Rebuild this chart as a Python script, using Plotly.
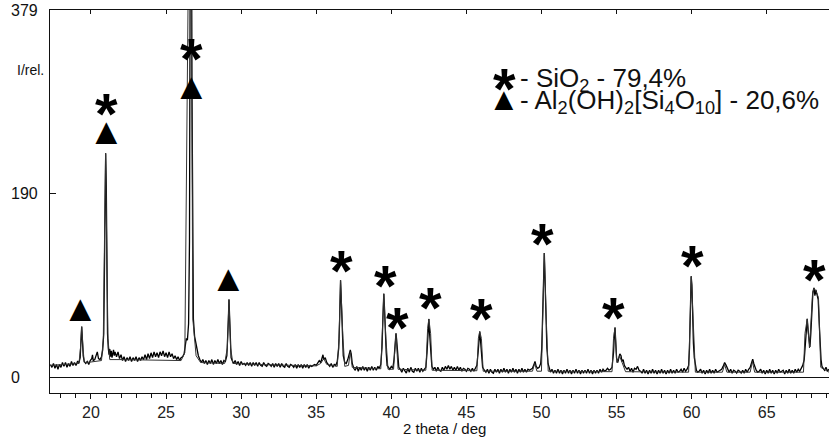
import plotly.graph_objects as go

# Measured diffraction scan: (2-theta in degrees, relative intensity)
scan = [
    (17.30, 13), (17.40, 10), (17.50, 14), (17.60, 9), (17.70, 13), (17.80, 8), (17.90, 13),
    (18.00, 10), (18.10, 15), (18.20, 11), (18.30, 15), (18.40, 10), (18.50, 14), (18.60, 11),
    (18.70, 16), (18.80, 12), (18.90, 15), (19.00, 12), (19.10, 16), (19.20, 15),
    (19.28, 20), (19.33, 35), (19.38, 52), (19.43, 38), (19.48, 22), (19.55, 16),
    (19.65, 14), (19.75, 16), (19.85, 13), (19.95, 17), (20.05, 19), (20.10, 23), (20.15, 17),
    (20.25, 18), (20.35, 22), (20.42, 26), (20.50, 19), (20.60, 18), (20.70, 21), (20.78, 28),
    (20.85, 45), (20.90, 110), (20.95, 190), (20.98, 231), (21.02, 195), (21.06, 100),
    (21.10, 45), (21.15, 30),
    (21.20, 23), (21.25, 29), (21.30, 21), (21.35, 27), (21.40, 20), (21.50, 28), (21.55, 22),
    (21.60, 26), (21.70, 21), (21.80, 26), (21.90, 19), (22.00, 23),
    (22.10, 17), (22.20, 21), (22.30, 16), (22.40, 20), (22.50, 17), (22.60, 21), (22.70, 16),
    (22.80, 20), (22.90, 17), (23.00, 21), (23.10, 16), (23.20, 20), (23.30, 17), (23.40, 21),
    (23.50, 18), (23.60, 23), (23.70, 18), (23.80, 24), (23.90, 19), (24.00, 25), (24.10, 20),
    (24.20, 26), (24.30, 21), (24.40, 25), (24.50, 20), (24.60, 26), (24.70, 22), (24.80, 27),
    (24.90, 21), (25.00, 25), (25.10, 20), (25.20, 26), (25.30, 21), (25.40, 24), (25.50, 19),
    (25.60, 22), (25.70, 18), (25.80, 21), (25.90, 17), (26.00, 20), (26.10, 21), (26.20, 24),
    (26.28, 32), (26.35, 40), (26.42, 38), (26.50, 55), (26.56, 140), (26.60, 330),
    (26.64, 640), (26.68, 600), (26.72, 310), (26.76, 150), (26.82, 60), (26.90, 42),
    (26.98, 35), (27.05, 28), (27.15, 22),
    (27.25, 18), (27.35, 15), (27.45, 18), (27.55, 14), (27.65, 17), (27.75, 13), (27.85, 17),
    (27.95, 14), (28.05, 18), (28.15, 13), (28.25, 17), (28.35, 14), (28.45, 18), (28.55, 14),
    (28.65, 17), (28.75, 13), (28.85, 17), (28.95, 16), (29.05, 22),
    (29.10, 35), (29.15, 60), (29.19, 80), (29.23, 62), (29.28, 35), (29.33, 20),
    (29.40, 17), (29.50, 14), (29.60, 17), (29.70, 13), (29.80, 16), (29.90, 12), (30.00, 16),
    (30.10, 13), (30.20, 14), (30.30, 12), (30.40, 15), (30.50, 12), (30.60, 15), (30.70, 11),
    (30.80, 15), (30.90, 12), (31.00, 15), (31.10, 11), (31.20, 15), (31.30, 12), (31.40, 11),
    (31.50, 15), (31.60, 12), (31.70, 11), (31.80, 14), (31.90, 13), (32.00, 11), (32.10, 14),
    (32.20, 10), (32.30, 14), (32.40, 11), (32.50, 14), (32.60, 10), (32.70, 14), (32.80, 11),
    (32.90, 10), (33.00, 14), (33.10, 11), (33.20, 10), (33.30, 13), (33.40, 12), (33.50, 10),
    (33.60, 13), (33.70, 9), (33.80, 13), (33.90, 10), (34.00, 13), (34.10, 9), (34.20, 13),
    (34.30, 10), (34.40, 13), (34.50, 9), (34.60, 12), (34.70, 11), (34.80, 12), (34.90, 13),
    (35.00, 12), (35.10, 14), (35.20, 17), (35.30, 15), (35.40, 21), (35.45, 23), (35.50, 18),
    (35.60, 20), (35.70, 15), (35.80, 13), (35.90, 11), (36.00, 14), (36.10, 10), (36.20, 13),
    (36.30, 12), (36.40, 16),
    (36.50, 30), (36.56, 60), (36.62, 100), (36.68, 75), (36.74, 40), (36.80, 22), (36.90, 15),
    (37.00, 14), (37.10, 18), (37.20, 26), (37.27, 28), (37.33, 24), (37.40, 14),
    (37.50, 9), (37.60, 7), (37.70, 11), (37.80, 6), (37.90, 10), (38.00, 7), (38.10, 11),
    (38.20, 7), (38.30, 10), (38.40, 6), (38.50, 10), (38.60, 7), (38.70, 11), (38.80, 7),
    (38.90, 10), (39.00, 7), (39.10, 11), (39.20, 9), (39.30, 13),
    (39.38, 30), (39.44, 60), (39.50, 86), (39.55, 70), (39.60, 45), (39.66, 25), (39.72, 12),
    (39.80, 10), (39.90, 8), (40.00, 11), (40.10, 9), (40.18, 18), (40.25, 35), (40.31, 45),
    (40.36, 38), (40.42, 22), (40.50, 10),
    (40.60, 8), (40.70, 5), (40.80, 9), (40.90, 6), (41.00, 4), (41.10, 9), (41.20, 5),
    (41.30, 10), (41.40, 6), (41.50, 5), (41.60, 9), (41.70, 6), (41.80, 9), (41.90, 5),
    (42.00, 9), (42.10, 6), (42.20, 8), (42.30, 10),
    (42.38, 25), (42.45, 48), (42.50, 60), (42.55, 45), (42.62, 22), (42.70, 11), (42.80, 8),
    (42.90, 10), (43.00, 6), (43.10, 10), (43.20, 7), (43.30, 6), (43.40, 10), (43.50, 7),
    (43.60, 11), (43.70, 8), (43.80, 12), (43.90, 8), (44.00, 11), (44.10, 7), (44.20, 10),
    (44.30, 7), (44.40, 11), (44.50, 7), (44.60, 10), (44.70, 6), (44.80, 9), (44.90, 8),
    (45.00, 6), (45.10, 9), (45.20, 8), (45.30, 6), (45.40, 9), (45.50, 6), (45.60, 9),
    (45.70, 12),
    (45.78, 25), (45.84, 40), (45.89, 47), (45.94, 38), (46.00, 22), (46.08, 10),
    (46.20, 7), (46.30, 5), (46.40, 8), (46.50, 4), (46.60, 8), (46.70, 5), (46.80, 4),
    (46.90, 8), (47.00, 5), (47.10, 8), (47.20, 4), (47.30, 8), (47.40, 5), (47.50, 9),
    (47.60, 5), (47.70, 8), (47.80, 4), (47.90, 8), (48.00, 5), (48.10, 9), (48.20, 5),
    (48.30, 8), (48.40, 4), (48.50, 8), (48.60, 5), (48.70, 9), (48.80, 5), (48.90, 8),
    (49.00, 5), (49.10, 8), (49.20, 7), (49.30, 8), (49.40, 9), (49.50, 13), (49.57, 16),
    (49.65, 11), (49.75, 9), (49.85, 10), (49.95, 14),
    (50.02, 30), (50.08, 70), (50.14, 115), (50.19, 128), (50.24, 100), (50.30, 60),
    (50.36, 30), (50.44, 14), (50.52, 8),
    (50.60, 5), (50.70, 8), (50.80, 4), (50.90, 7), (51.00, 4), (51.10, 8), (51.20, 4),
    (51.30, 7), (51.40, 3), (51.50, 7), (51.60, 4), (51.70, 8), (51.80, 4), (51.90, 7),
    (52.00, 3), (52.10, 7), (52.20, 4), (52.30, 8), (52.40, 4), (52.50, 7), (52.60, 3),
    (52.70, 7), (52.80, 4), (52.90, 7), (53.00, 4), (53.10, 8), (53.20, 4), (53.30, 7),
    (53.40, 3), (53.50, 7), (53.60, 4), (53.70, 7), (53.80, 4), (53.90, 8), (54.00, 5),
    (54.10, 8), (54.20, 6), (54.30, 7), (54.40, 9), (54.50, 7), (54.60, 8), (54.70, 10),
    (54.80, 25), (54.86, 45), (54.90, 51), (54.95, 35), (55.00, 20), (55.08, 15), (55.15, 20),
    (55.22, 24), (55.30, 22), (55.36, 16), (55.44, 18), (55.52, 12), (55.60, 10),
    (55.70, 8), (55.80, 10), (55.90, 6), (56.00, 9), (56.10, 5), (56.20, 9), (56.30, 8),
    (56.40, 11), (56.50, 7), (56.60, 6), (56.70, 4), (56.80, 8), (56.90, 4), (57.00, 7),
    (57.10, 3), (57.20, 7), (57.30, 4), (57.40, 8), (57.50, 4), (57.60, 7), (57.70, 3),
    (57.80, 7), (57.90, 4), (58.00, 8), (58.10, 4), (58.20, 7), (58.30, 3), (58.40, 7),
    (58.50, 4), (58.60, 8), (58.70, 4), (58.80, 7), (58.90, 4), (59.00, 8), (59.10, 5),
    (59.20, 6), (59.30, 8), (59.40, 5), (59.50, 9), (59.60, 6), (59.70, 8), (59.80, 12),
    (59.86, 30), (59.92, 70), (59.97, 104), (60.02, 95), (60.07, 60), (60.12, 35), (60.18, 20),
    (60.25, 10), (60.32, 7),
    (60.40, 5), (60.50, 6), (60.60, 8), (60.70, 4), (60.80, 7), (60.90, 3), (61.00, 7),
    (61.10, 4), (61.20, 8), (61.30, 4), (61.40, 7), (61.50, 4), (61.60, 8), (61.70, 5),
    (61.80, 6), (61.90, 7), (62.00, 8), (62.10, 11), (62.20, 15), (62.30, 12), (62.40, 8),
    (62.50, 5), (62.60, 8), (62.70, 4), (62.80, 7), (62.90, 6), (63.00, 4), (63.10, 7),
    (63.20, 6), (63.30, 4), (63.40, 7), (63.50, 4), (63.60, 8), (63.70, 5), (63.80, 8),
    (63.90, 10), (64.00, 15), (64.07, 18.5), (64.14, 14), (64.22, 9), (64.30, 7), (64.40, 5),
    (64.50, 6), (64.60, 8), (64.70, 4), (64.80, 7), (64.90, 3), (65.00, 7), (65.10, 4),
    (65.20, 8), (65.30, 4), (65.40, 7), (65.50, 3), (65.60, 7), (65.70, 4), (65.80, 8),
    (65.90, 5), (66.00, 6), (66.10, 7), (66.20, 3), (66.30, 7), (66.40, 4), (66.50, 8),
    (66.60, 4), (66.70, 7), (66.80, 4), (66.90, 8), (67.00, 5), (67.10, 8), (67.20, 6),
    (67.30, 9), (67.40, 12), (67.50, 18),
    (67.58, 35), (67.65, 55), (67.70, 60), (67.76, 48), (67.82, 34), (67.88, 31), (67.94, 45),
    (68.00, 70), (68.08, 88), (68.15, 92), (68.21, 84), (68.28, 90), (68.35, 85), (68.43, 80),
    (68.50, 55), (68.56, 30), (68.62, 18), (68.68, 11), (68.75, 9), (68.85, 7), (68.95, 10),
    (69.05, 6), (69.15, 8),
]

# Smoothed profile with its background, drawn as the thin outline under the scan
profile = [
    (17.30, 12), (18.50, 13), (19.20, 14), (19.30, 30), (19.38, 52), (19.47, 30), (19.55, 15),
    (20.00, 15.5), (20.70, 17), (20.82, 40), (20.97, 231), (21.13, 40), (21.25, 18),
    (22.00, 18), (24.00, 17.5), (26.00, 17), (26.25, 25), (26.62, 650), (26.78, 60),
    (27.00, 22), (27.30, 15), (28.90, 14), (29.08, 30), (29.19, 80), (29.30, 30), (29.45, 14),
    (32.00, 12.5), (35.00, 11.5), (35.30, 14), (35.50, 19), (35.70, 13), (36.40, 11),
    (36.52, 40), (36.62, 100), (36.78, 40), (36.90, 11), (37.15, 12), (37.27, 26), (37.40, 10),
    (39.30, 8.5), (39.40, 45), (39.50, 86), (39.64, 40), (39.78, 8), (40.15, 8), (40.25, 40),
    (40.31, 45), (40.45, 8), (42.30, 7), (42.42, 50), (42.50, 60), (42.62, 45), (42.72, 7),
    (45.70, 6.5), (45.80, 40), (45.89, 47), (46.00, 40), (46.12, 6), (49.40, 6), (49.55, 14),
    (49.70, 6), (50.00, 6), (50.08, 60), (50.19, 128), (50.32, 60), (50.45, 6), (54.70, 5.5),
    (54.80, 40), (54.90, 51), (55.02, 15), (55.20, 22), (55.40, 14), (55.60, 5.5),
    (59.80, 5), (59.90, 60), (59.98, 104), (60.10, 60), (60.25, 5), (62.05, 5), (62.20, 13),
    (62.35, 5), (63.90, 5), (64.05, 16), (64.20, 5), (67.45, 5), (67.55, 45), (67.70, 60),
    (67.85, 30), (68.05, 85), (68.15, 92), (68.30, 88), (68.45, 82), (68.60, 10), (69.15, 5),
]

# Phase markers placed above the reflections
sio2_2theta = [21.0, 26.7, 36.7, 39.6, 40.4, 42.6, 46.0, 50.1, 54.8, 60.05, 68.2]
sio2_level = [281, 338, 119, 104, 60, 81, 70, 147, 71, 124, 110]
mont_2theta = [19.3, 21.0, 26.7, 29.15]
mont_level = [67.5, 250, 296.5, 98.5]

x_ticks = [20, 25, 30, 35, 40, 45, 50, 55, 60, 65]
y_ticks = [0, 190, 379]

legend_rows = [
    ("*", "- SiO<sub>2</sub> - 79,4%"),
    ("▲", "- Al<sub>2</sub>(OH)<sub>2</sub>[Si<sub>4</sub>O<sub>10</sub>] - 20,6%"),
]

W, H = 829, 443
ML, MR, MT, MB = 50, 0, 10, 50
X_RANGE = [17.27, 69.15]
Y_RANGE = [-16.5, 379]
INK = "#111111"
FONT = "Liberation Sans, Arial, sans-serif"

scan_x = [p[0] for p in scan]
scan_y = [p[1] for p in scan]
prof_x = [p[0] for p in profile]
prof_y = [p[1] for p in profile]

fig = go.Figure()
fig.add_trace(go.Scatter(x=prof_x, y=prof_y, mode="lines", xaxis="x2",
                         line=dict(color="#333333", width=1), hoverinfo="skip"))
fig.add_trace(go.Scatter(x=scan_x, y=scan_y, mode="lines",
                         line=dict(color="#000000", width=1.3)))

annotations = []
STAR_SIZE = 58
STAR_SHIFT = -9
TRI_SIZE = 37
TRI_SHIFT = 3
for xv, yv in zip(sio2_2theta, sio2_level):
    annotations.append(dict(x=xv, y=yv, xref="x", yref="y", text="<b>*</b>", showarrow=False,
                            xanchor="center", yanchor="middle", yshift=STAR_SHIFT,
                            font=dict(family=FONT, size=STAR_SIZE, color="#000")))
for xv, yv in zip(mont_2theta, mont_level):
    annotations.append(dict(x=xv, y=yv, xref="x", yref="y", text="▲", showarrow=False,
                            xanchor="center", yanchor="middle", yshift=TRI_SHIFT,
                            font=dict(family=FONT, size=TRI_SIZE, color="#000")))

# y tick labels, left aligned at the page edge
for v in y_ticks:
    annotations.append(dict(x=-0.053, y=v, xref="paper", yref="y", text=str(v),
                            showarrow=False, xanchor="left", yanchor="middle",
                            font=dict(family=FONT, size=16, color=INK)))
annotations.append(dict(x=-0.045, y=0.843, xref="paper", yref="paper", text="I/rel.",
                        showarrow=False, xanchor="left", yanchor="middle",
                        font=dict(family=FONT, size=14, color=INK)))
annotations.append(dict(x=0.507, y=-0.0914, xref="paper", yref="paper", text="2 theta / deg",
                        showarrow=False, xanchor="center", yanchor="middle",
                        font=dict(family=FONT, size=15, color=INK)))

# Legend block
legend_y = [0.818, 0.760]
for (glyph, label), ly in zip(legend_rows, legend_y):
    if glyph == "*":
        annotations.append(dict(x=0.584, y=ly, xref="paper", yref="paper", text="<b>*</b>",
                                showarrow=False, xanchor="center", yanchor="middle",
                                yshift=STAR_SHIFT,
                                font=dict(family=FONT, size=STAR_SIZE, color="#000")))
    else:
        annotations.append(dict(x=0.583, y=ly, xref="paper", yref="paper", text="▲",
                                showarrow=False, xanchor="center", yanchor="middle",
                                yshift=TRI_SHIFT,
                                font=dict(family=FONT, size=TRI_SIZE - 5, color="#000")))
    annotations.append(dict(x=0.601, y=ly, xref="paper", yref="paper", text=label,
                            showarrow=False, xanchor="left", yanchor="middle",
                            font=dict(family=FONT, size=26, color=INK)))

fig.update_layout(
    width=W, height=H,
    margin=dict(l=ML, r=MR, t=MT, b=MB, pad=0),
    paper_bgcolor="white", plot_bgcolor="white",
    showlegend=False,
    font=dict(family=FONT, size=16, color=INK),
    annotations=annotations,
    xaxis=dict(range=X_RANGE, tickmode="array", tickvals=x_ticks, ticks="outside",
               ticklen=5, tickwidth=1, tickcolor=INK, showline=True, linecolor=INK,
               linewidth=1, showgrid=False, zeroline=False,
               tickfont=dict(family=FONT, size=16, color="#222"),
               minor=dict(dtick=1, ticks="outside", ticklen=4, tickcolor=INK, showgrid=False)),
    xaxis2=dict(range=X_RANGE, overlaying="x", side="top", matches="x", tickmode="array",
                tickvals=x_ticks, ticks="inside", ticklen=4, tickcolor=INK,
                showticklabels=False, showline=True, linecolor=INK, linewidth=1,
                showgrid=False, zeroline=False),
    yaxis=dict(range=Y_RANGE, tickmode="array", tickvals=y_ticks, ticks="inside", ticklen=6,
               tickcolor=INK, showticklabels=False, showline=True, linecolor=INK,
               linewidth=1, showgrid=False, zeroline=True, zerolinecolor=INK,
               zerolinewidth=1),
)

fig.write_html("out.html")
